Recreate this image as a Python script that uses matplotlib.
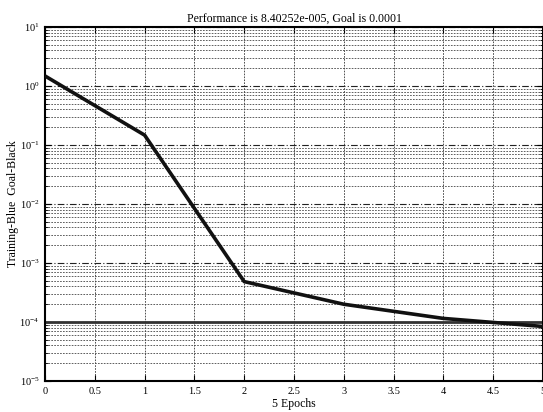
import matplotlib
matplotlib.use("Agg")
import matplotlib.pyplot as plt
import numpy as np

epochs = [0, 1, 2, 3, 4, 5]
performance = [1.48, 0.147, 4.84e-4, 2.0e-4, 1.15e-4, 8.40252e-5]
goal = 1e-4
xticks = [0, 0.5, 1, 1.5, 2, 2.5, 3, 3.5, 4, 4.5, 5]
xticklabels = ["0", "0.5", "1", "1.5", "2", "2.5", "3", "3.5", "4", "4.5", "5"]

plt.rcParams['font.family'] = ['Liberation Serif', 'DejaVu Serif']
plt.rcParams['mathtext.fontset'] = 'custom'
plt.rcParams['mathtext.rm'] = 'Liberation Serif'
plt.rcParams['mathtext.it'] = 'Liberation Serif'

W, H = 543, 412
fig = plt.figure(figsize=(W/100, H/100), dpi=100)
ax = fig.add_axes([45/W, 1-381/H, 1-45/W, (381-27)/H])

ax.set_yscale('log')
ax.set_xlim(0, 5)
ax.set_ylim(1e-5, 1e1)

ax.plot(epochs, performance, color='#111111', linewidth=2.6, zorder=3, solid_capstyle='butt')
ax.axhline(goal, color='#333333', linewidth=2.0, zorder=2)

ax.set_xticks(xticks)
ax.set_xticklabels(xticklabels)
ax.set_yticks([10.0**k for k in range(-5, 2)])
ax.set_yticklabels([r'$10^{%d}$' % k for k in range(-5, 2)])

ax.grid(True, which='major', axis='y', color='#222222', linestyle=(0, (6, 2, 1, 2)), linewidth=0.8)
ax.grid(True, which='minor', axis='y', color='#444444', linestyle=(0, (2, 1.5)), linewidth=0.6)
ax.grid(True, which='major', axis='x', color='#333333', linestyle=(0, (2, 1.5)), linewidth=0.6)

ax.tick_params(axis='both', which='major', direction='in', top=True, right=True, labelsize=7.5, length=4, pad=4)
ax.tick_params(axis='y', which='minor', direction='in', right=True, length=2)
for s in ax.spines.values():
    s.set_linewidth(1.5)

ax.set_title('Performance is 8.40252e-005, Goal is 0.0001', fontsize=8.5, pad=4)
ax.set_xlabel('5 Epochs', fontsize=8.5)
ax.set_ylabel('Training-Blue  Goal-Black', fontsize=8.5)
ax.xaxis.set_label_coords(0.5, -(398-381)/(381-27))
ax.yaxis.set_label_coords(-(45-19)/(W-45), 0.5)

fig.savefig('out.png', dpi=100)
